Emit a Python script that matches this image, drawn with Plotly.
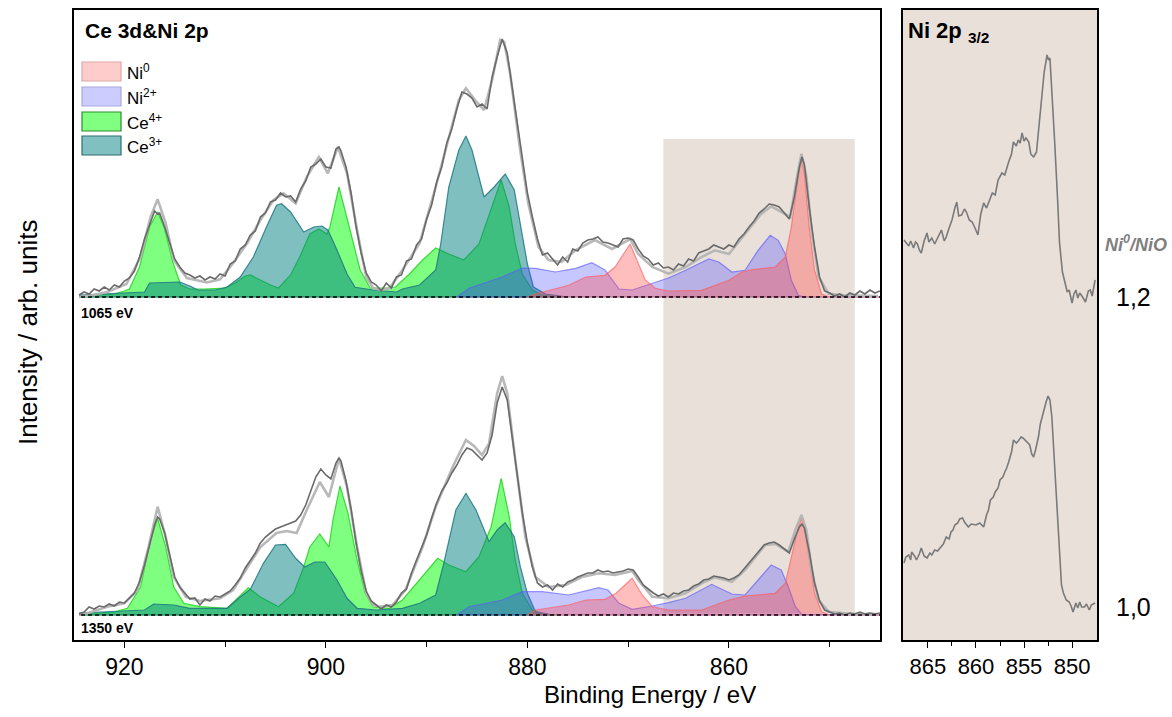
import plotly.graph_objects as go

# ---------------- data (energy in eV, intensity in arb. units) ----------------
exp_top = [(924.5,2),(924.0,5),(923.5,3),(923.0,8),(922.5,6),(922.0,10),(921.5,7),(921.0,12),(920.5,10),(920.0,16),
 (919.5,19),(919.0,26),(918.5,40),(918.0,58),(917.5,72),(917.0,86),(916.7,83),(916.5,84),(916.0,70),(915.5,54),
 (915.0,38),(914.5,30),(914.0,24),(913.5,22),(913.0,19),(912.5,21),(912.0,17),(911.5,20),(911.0,18),(910.5,23),
 (910.0,21),(909.5,33),(909.0,36),(908.5,48),(908.0,52),(907.5,62),(907.0,66),(906.5,80),(906.0,84),(905.5,95),
 (905.0,97),(904.5,104),(904.0,100),(903.5,101),(903.0,95),(902.5,108),(902.0,116),(901.5,130),(901.0,133),(900.5,138),
 (900.0,130),(899.5,129),(899.0,148),(898.7,150),(898.5,146),(898.0,130),(897.5,104),(897.0,70),(896.5,44),(896.0,24),
 (895.5,15),(895.0,12),(894.5,6),(894.0,14),(893.5,9),(893.0,20),(892.5,22),(892.0,36),(891.5,38),(891.0,52),
 (890.5,58),(890.0,78),(889.5,92),(889.0,115),(888.5,130),(888.0,154),(887.5,168),(887.0,188),(886.5,205),(886.0,203),
 (885.5,199),(885.0,190),(884.5,193),(884.0,188),(883.5,220),(883.0,240),(882.5,258),(882.0,244),(881.5,210),(881.0,172),
 (880.5,138),(880.0,104),(879.5,80),(879.0,58),(878.5,42),(878.0,44),(877.5,38),(877.0,32),(876.5,40),(876.0,35),
 (875.5,48),(875.0,46),(874.5,54),(874.0,57),(873.5,58),(873.0,60),(872.5,55),(872.0,54),(871.5,52),(871.0,50),
 (870.5,58),(870.0,59),(869.5,57),(869.0,48),(868.5,41),(868.0,38),(867.5,32),(867.0,34),(866.5,29),(866.0,30),
 (865.5,27),(865.0,33),(864.5,31),(864.0,38),(863.5,36),(863.0,44),(862.5,46),(862.0,48),(861.5,52),(861.0,50),
 (860.5,48),(860.0,52),(859.5,50),(859.0,58),(858.5,63),(858.0,70),(857.5,76),(857.0,84),(856.5,88),(856.0,93),
 (855.5,92),(855.0,90),(854.5,84),(854.0,78),(853.5,100),(853.0,130),(852.75,140),(852.5,132),(852.0,88),(851.5,50),
 (851.0,20),(850.5,6),(850.0,4),(849.5,1),(849.0,3),(848.5,0),(848.0,4),(847.5,2),(847.0,6),(846.5,3),
 (846.0,7),(845.5,4),(845.0,6)]

exp_bottom = [(924.5,1),(924.0,3),(923.5,8),(923.0,6),(922.5,9),(922.0,8),(921.5,11),(921.0,9),(920.5,13),(920.0,12),
 (919.5,17),(919.0,22),(918.5,33),(918.0,50),(917.5,70),(917.0,90),(916.7,98),(916.5,96),(916.0,82),(915.5,60),
 (915.0,38),(914.5,28),(914.0,22),(913.5,16),(913.0,17),(912.5,10),(912.0,16),(911.5,14),(911.0,19),(910.5,18),
 (910.0,21),(909.5,24),(909.0,30),(908.5,37),(908.0,47),(907.5,55),(907.0,62),(906.5,72),(906.0,78),(905.5,82),
 (905.0,86),(904.5,88),(904.0,90),(903.5,92),(903.0,94),(902.5,100),(902.0,110),(901.5,124),(901.0,138),(900.5,146),
 (900.0,140),(899.5,136),(899.0,152),(898.7,157),(898.5,154),(898.0,134),(897.5,106),(897.0,72),(896.5,44),(896.0,24),
 (895.5,14),(895.0,10),(894.5,6),(894.0,10),(893.5,8),(893.0,13),(892.5,22),(892.0,26),(891.5,42),(891.0,55),
 (890.5,68),(890.0,80),(889.5,97),(889.0,112),(888.5,124),(888.0,132),(887.5,142),(887.0,150),(886.5,160),(886.0,167),
 (885.5,165),(885.0,160),(884.5,155),(884.0,162),(883.5,180),(883.0,212),(882.5,228),(882.0,215),(881.5,178),(881.0,138),
 (880.5,102),(880.0,72),(879.5,48),(879.0,32),(878.5,28),(878.0,30),(877.5,25),(877.0,31),(876.5,28),(876.0,33),
 (875.5,35),(875.0,38),(874.5,40),(874.0,42),(873.5,42),(873.0,45),(872.5,43),(872.0,44),(871.5,42),(871.0,43),
 (870.5,44),(870.0,46),(869.5,45),(869.0,38),(868.5,30),(868.0,26),(867.5,22),(867.0,19),(866.5,21),(866.0,18),
 (865.5,22),(865.0,21),(864.5,24),(864.0,25),(863.5,29),(863.0,31),(862.5,35),(862.0,36),(861.5,39),(861.0,38),
 (860.5,37),(860.0,35),(859.5,37),(859.0,40),(858.5,46),(858.0,53),(857.5,58),(857.0,64),(856.5,70),(856.0,72),
 (855.5,73),(855.0,70),(854.5,66),(854.0,62),(853.5,76),(853.0,88),(852.75,91),(852.5,87),(852.0,62),(851.5,32),
 (851.0,14),(850.5,5),(850.0,3),(849.5,1),(849.0,2),(848.5,0),(848.0,2),(847.5,1),(847.0,3),(846.5,1),
 (846.0,2),(845.5,1),(845.0,2)]

envelope_top = [(924.5,0),(923,2),(921.7,5),(919.8,13),(918.4,40),(917.4,80),(916.7,97.7),(915.9,74),(915.1,37),
 (913.8,19),(911.8,14.5),(910.5,17.7),(909.2,34),(907.8,54),(906.5,77),(905.2,97),(904.2,103.7),(903.0,93.7),
 (901.9,120),(900.7,140),(899.8,123.7),(898.8,150),(897.9,123.7),(896.9,66.7),(896.0,20),(895.3,8.7),(894.5,7),
 (893.7,8.7),(892.4,27),(890.7,53.7),(889.1,110),(887.8,160),(886.8,197),(886.1,208.7),(885.1,195.7),(884.3,187),
 (883.5,217),(882.7,257),(882.3,255),(881.7,223),(880.8,153),(879.9,93),(878.9,50),(877.9,37),(876.6,35),
 (875.2,47),(873.3,57),(871.6,48),(870.9,52),(869.8,58),(869.0,43),(867.6,30),(866.0,23.3),(864.3,30),
 (862.7,40),(861.4,46.7),(860.0,43),(858.4,63),(856.8,83),(855.8,90.7),(854.8,85),(853.9,80),(853.3,116.7),
 (852.8,143.3),(852.3,120),(851.8,66.7),(851.1,20),(850.1,3.3),(848.5,1.7),(845.2,1)]

envelope_bottom = [(924.5,0),(923.7,1.7),(921.7,8.3),(920.0,11.7),(918.7,25),(917.6,68),(916.7,108.3),(915.9,78),
 (915.1,38),(913.9,18),(912.5,14),(910.5,16.7),(909.2,25),(907.8,48),(906.5,68),(904.9,82),(903.9,84),(902.9,82),
 (901.9,105),(900.6,133),(899.7,118),(898.7,156.7),(897.9,128),(896.9,68),(896.0,21.7),(895.3,10),(894.7,8.3),
 (893.4,10),(892.1,25),(890.4,68.3),(889.1,108.3),(887.4,148.3),(886.1,175),(885.3,169),(884.5,160),(883.8,171.7),
 (883.0,221.7),(882.5,239),(882.0,221.7),(881.2,155),(880.2,78),(879.2,38),(877.9,28),(876.2,30),(874.6,38),
 (872.9,41.7),(871.3,40),(869.6,44),(869.0,35),(867.6,18.3),(866.0,16.7),(864.3,21.7),(862.7,31.7),(861.4,37.7),
 (859.7,33.3),(858.4,45),(856.4,70),(855.4,71),(854.1,63.3),(853.4,85),(852.8,100),(852.3,85),(851.8,45),
 (851.1,15),(850.1,3.3),(847.8,1),(845.2,1)]

ce4_top = [(924.5,1),(921,3),(920,6),(919.5,8),(918.5,30),(917.5,70),(916.7,85),(916,68),(915.2,35),(914.4,12),
 (913.5,8),(912,8),(910,9),(909,14),(908,21),(907.5,22),(906.5,17),(905.5,12),(904.7,9),(903.5,22),(902.6,40),
 (901.6,63),(900.7,68),(899.9,63),(899.6,70),(898.7,110),(897.6,67),(896.6,27),(895.6,9),(894.0,9),(893.1,10),
 (891.7,23),(890.4,37),(889.1,49),(887.8,43),(886.3,37),(884.8,53),(883.5,90),(882.6,117),(881.8,90),(881.2,53),
 (880.5,23),(879.5,7),(878.6,2),(877,0)]

ce3_top = [(924.5,2),(921,4),(918,5),(917.5,14),(914.5,15),(913.5,11),(912.7,7),(911,7),(909.8,10),(908.5,20),
 (907.2,40),(905.9,70),(904.9,91.7),(904.4,93.3),(903.5,85),(902.2,65),(901.2,70),(900.4,71),(899.8,67),(898.9,47),
 (897.9,23),(897.1,9.7),(895.3,7),(893,5),(892.4,8),(890.7,12),(889.1,27),(888.6,53),(887.8,110),(886.8,147),
 (886.1,161),(885.5,147),(884.3,100),(883.3,110),(882.2,123),(881.3,107),(880.7,73),(880.0,33),(879.4,10),
 (878.2,3),(876,0)]

ni2_top = [(887,0),(885.8,8.7),(882.5,20),(880.5,29),(879.2,28.7),(877.2,25),(875.2,28.7),(873.6,34.3),(872.3,27),
 (871.3,13.7),(870.9,8),(869.6,7),(867.6,14),(866.0,19),(864.3,26.7),(862.0,38),(861.0,35),(859.7,25),(858.4,26.7),
 (857.1,46.7),(855.9,61.7),(855.1,56.7),(854.4,43),(853.8,16.7),(853.1,1.7),(852.5,0),(845,0)]

ni0_top = [(880,0),(879.2,3),(875.9,11.7),(874.2,20),(872.3,21.7),(871.3,30),(869.8,53),(869.0,33.7),(868.3,17),
 (867.3,8.7),(866.0,6),(862.7,6.7),(860.0,16.7),(858.7,25),(857.7,27.3),(855.4,30),(854.4,40),(853.8,70),
 (853.1,123),(852.8,137),(852.5,123),(852.0,67),(851.5,27),(850.8,3),(850.0,0),(845,0)]

ce4_bottom = [(924.5,1),(921,3),(919.7,6.7),(918.4,28),(917.4,75),(916.7,96.7),(915.9,68),(915.1,28),(914.1,11.7),
 (912.5,8.3),(909.8,6.7),(908.8,16.7),(907.7,27.3),(906.5,18),(904.7,8.3),(903.2,21.7),(902.2,48),(901.6,68),
 (900.6,81),(899.7,68),(899.3,95),(898.6,129),(897.8,101.7),(896.9,55),(896.1,21.7),(895.3,8),(893.7,6.7),
 (892.4,15),(890.7,35),(888.9,56.7),(887.8,50),(886.1,43.3),(884.8,58.3),(883.6,88),(882.6,136.7),(881.8,98.3),
 (881.2,55),(880.5,21.7),(879.5,5),(878.5,1),(877,0)]

ce3_bottom = [(924.5,2),(921,4),(918,5),(917.1,11),(915.1,10),(913.5,6.7),(909.8,6.7),(908.5,18),(907.5,25.7),
 (906.2,51.7),(905.0,70),(904.0,70.7),(903.0,56.7),(902.1,48),(901.1,53),(900.1,53),(898.9,35),(897.9,16.7),
 (896.9,6.7),(895,5),(892.4,6.7),(890.7,11.7),(889.1,20),(888.3,51.7),(887.1,105),(886.1,121.7),(885.1,105),
 (883.8,73.3),(883.0,85),(882.2,92.3),(881.3,78.3),(880.7,48.3),(880.0,21.7),(879.2,3.3),(877.5,0)]

ni2_bottom = [(887,0),(885.8,8.3),(882.5,15),(880.5,23.3),(878.5,23.3),(875.9,20),(872.9,27.3),(872.0,25),
 (870.9,11.7),(869.6,5.7),(867.6,9),(866.0,12.3),(864.3,16.7),(861.7,30.7),(859.7,21),(858.4,20),(857.1,35),
 (855.8,50),(854.8,45),(854.1,28.3),(853.4,8.3),(852.8,1),(845,0)]

ni0_bottom = [(880,0),(879.2,5),(875.9,10),(874.2,15),(872.3,15.7),(871.2,21.7),(869.6,36.7),(868.6,20),(867.6,8.3),
 (866.0,5),(862.7,5),(860.0,15),(858.4,19),(855.4,21.7),(854.4,31.7),(853.8,58.3),(853.1,88.3),(852.8,96.7),
 (852.5,88.3),(852.0,55),(851.5,21.7),(850.8,3.3),(850.0,0),(845,0)]

# Ni 2p3/2 detail panel (E, stacked intensity)
ni2p_top = [(867.5,400),(867.2,396),(867.0,394),(866.8,399),(866.5,392),(866.3,398),(866.1,396),(865.9,390),
 (865.7,387),(865.4,399),(865.1,407),(864.9,398),(864.6,402),(864.3,396),(864.1,400),(863.8,406),(863.6,410),
 (863.3,399),(863.1,403),(862.8,412),(862.5,420),(862.2,432),(862.0,438),(861.8,424),(861.5,425),(861.2,431),
 (861.0,428),(860.7,420),(860.4,418),(860.1,412),(859.8,405),(859.5,426),(859.2,437),(858.9,432),(858.6,440),
 (858.3,447),(858.0,445),(857.7,460),(857.3,467),(857.0,465),(856.6,478),(856.3,486),(856.1,498),(855.8,494),
 (855.6,500),(855.4,497),(855.2,507),(855.0,499),(854.8,502),(854.5,498),(854.3,486),(854.0,483),(853.7,488),
 (853.5,510),(853.2,540),(852.9,568),(852.6,585),(852.45,580),(852.3,582),(852.1,550),(851.8,497),(851.5,440),
 (851.3,397),(851.0,368),(850.7,357),(850.5,348),(850.3,350),(850.1,340),(850.0,337),(849.8,346),(849.6,350),
 (849.4,342),(849.2,347),(848.9,343),(848.6,338),(848.3,349),(848.1,350),(847.9,344),(847.6,360)]
ni2p_bottom = [(867.5,77),(867.3,83),(867.0,85),(866.8,80),(866.7,88),(866.4,84),(866.2,80),(865.9,86),(865.7,92),
 (865.4,84),(865.1,82),(864.8,87),(864.6,85),(864.3,90),(864.0,89),(863.7,92),(863.4,96),(863.1,103),(862.8,101),
 (862.6,108),(862.4,110),(862.2,115),(861.9,117),(861.7,121),(861.4,122),(861.2,118),(860.8,113),(860.5,116),
 (860.0,115),(859.6,117),(859.2,113),(858.9,125),(858.7,130),(858.5,140),(858.2,143),(858.0,148),(857.7,152),
 (857.5,160),(857.2,163),(857.0,168),(856.8,172),(856.6,178),(856.3,188),(856.1,200),(855.8,197),(855.6,199),
 (855.3,203),(855.1,202),(854.9,200),(854.7,198),(854.4,195),(854.2,186),(854.0,183),(853.8,190),(853.5,203),
 (853.3,216),(853.0,228),(852.7,238),(852.5,244),(852.3,240),(852.1,223),(851.8,170),(851.5,120),(851.3,77),
 (851.1,55),(850.9,47),(850.6,40),(850.3,38),(850.1,34),(849.9,28),(849.7,35),(849.6,37),(849.4,32),(849.2,38),
 (849.0,33),(848.7,33),(848.5,36),(848.2,30),(848.0,35),(847.6,37)]

main_ticks = [920, 900, 880, 860]
main_minor_ticks = [910, 890, 870, 850]
ni_ticks = [865, 860, 855, 850]
ni_minor_ticks = [862.5, 857.5, 852.5]
legend_labels = ["Ni<sup>0</sup>", "Ni<sup>2+</sup>", "Ce<sup>4+</sup>", "Ce<sup>3+</sup>"]
spectrum_labels = ["1065 eV", "1350 eV"]
ratio_labels = ["1,2", "1,0"]

# ---------------- layout constants ----------------
TOP_OFF = 343
BOT_OFF = 25
FONT = "Liberation Sans, Arial, sans-serif"
BEIGE = "#eae0da"
STY = {
    "ce4": ("rgba(0,255,0,0.5)", "rgba(40,215,40,0.9)"),
    "ce3": ("rgba(0,128,128,0.5)", "rgba(30,120,130,0.85)"),
    "ni2": ("rgba(70,70,255,0.3)", "rgba(90,90,255,0.65)"),
    "ni0": ("rgba(255,70,70,0.35)", "rgba(255,90,90,0.65)"),
}

fig = go.Figure()


def xs_of(p):
    return [a for a, _ in p]


def ys_of(p, off=0):
    return [b + off for _, b in p]


def add_component(pairs, off, key):
    fill, line = STY[key]
    x = xs_of(pairs)
    y = ys_of(pairs, off)
    fig.add_trace(go.Scatter(x=x + [x[-1], x[0]], y=y + [off, off], mode="lines",
                             fill="toself", fillcolor=fill,
                             line=dict(color=line, width=1.2),
                             hoverinfo="skip", showlegend=False))


for off, comps in ((TOP_OFF, (ce4_top, ce3_top, ni2_top, ni0_top)),
                   (BOT_OFF, (ce4_bottom, ce3_bottom, ni2_bottom, ni0_bottom))):
    for pairs, key in zip(comps, ("ce4", "ce3", "ni2", "ni0")):
        add_component(pairs, off, key)

for off, env, exp in ((TOP_OFF, envelope_top, exp_top), (BOT_OFF, envelope_bottom, exp_bottom)):
    fig.add_trace(go.Scatter(x=xs_of(env), y=ys_of(env, off), mode="lines",
                             line=dict(color="rgba(180,180,180,0.95)", width=2.6),
                             showlegend=False, hoverinfo="skip"))
    fig.add_trace(go.Scatter(x=xs_of(exp), y=ys_of(exp, off), mode="lines",
                             line=dict(color="#6a6a6a", width=1.6),
                             showlegend=False, hoverinfo="skip"))

for pairs in (ni2p_top, ni2p_bottom):
    fig.add_trace(go.Scatter(x=xs_of(pairs), y=ys_of(pairs), mode="lines", xaxis="x2", yaxis="y2",
                             line=dict(color="#7a7a7a", width=1.6),
                             showlegend=False, hoverinfo="skip"))

W_PLOT = 1172 - 74 - 75
H_PLOT = 630


def px(xp):
    return (xp - 74) / W_PLOT


def py(yp):
    return (640 - yp) / H_PLOT


shapes = [
    dict(type="rect", xref="x2 domain", yref="y2 domain", x0=0, x1=1, y0=0, y1=1,
         fillcolor=BEIGE, line=dict(width=0), layer="below"),
    dict(type="rect", xref="x", yref="y", x0=866.5, x1=847.5, y0=27, y1=501,
         fillcolor=BEIGE, line=dict(width=0), layer="below"),
]
for off in (TOP_OFF, BOT_OFF):
    shapes.append(dict(type="line", xref="x", yref="y", x0=924.3, x1=845, y0=off, y1=off,
                       line=dict(color="black", width=1.3, dash="4px,3px")))

swatches = [("#ffcccc", "#e0a8a8"), ("#ccccff", "#a8a8dd"), ("#80ff80", "#2e8b2e"), ("#80c0c0", "#2f6f6f")]
sw_tops = [62, 87, 112, 136]
annotations = []
for (fc, lc), top, lab in zip(swatches, sw_tops, legend_labels):
    shapes.append(dict(type="rect", xref="paper", yref="paper", x0=px(82), x1=px(121),
                       y0=py(top + 19), y1=py(top), fillcolor=fc, line=dict(color=lc, width=1.2)))
    annotations.append(dict(xref="paper", yref="paper", x=px(125), y=py(top + 10), text=lab,
                            showarrow=False, xanchor="left", yanchor="middle",
                            font=dict(size=17, color="black", family=FONT)))

annotations += [
    dict(xref="paper", yref="paper", x=px(83), y=py(30), text="<b>Ce 3d&amp;Ni 2p</b>",
         showarrow=False, xanchor="left", yanchor="middle", font=dict(size=21, family=FONT, color="black")),
    dict(xref="paper", yref="paper", x=px(906), y=py(32), text="<b>Ni 2p <sub>3/2</sub></b>",
         showarrow=False, xanchor="left", yanchor="middle", font=dict(size=22, family=FONT, color="black")),
    dict(xref="paper", yref="paper", x=px(79), y=py(313), text="<b>" + spectrum_labels[0] + "</b>",
         showarrow=False, xanchor="left", yanchor="middle", font=dict(size=14, family=FONT, color="black")),
    dict(xref="paper", yref="paper", x=px(79), y=py(628), text="<b>" + spectrum_labels[1] + "</b>",
         showarrow=False, xanchor="left", yanchor="middle", font=dict(size=14, family=FONT, color="black")),
    dict(xref="paper", yref="paper", x=px(1136), y=py(243), text="<b><i>Ni<sup>0</sup>/NiO</i></b>",
         showarrow=False, xanchor="center", yanchor="middle", font=dict(size=18, family=FONT, color="#7f7f7f")),
    dict(xref="paper", yref="paper", x=px(1133), y=py(297), text=ratio_labels[0],
         showarrow=False, xanchor="center", yanchor="middle", font=dict(size=25, family=FONT, color="black")),
    dict(xref="paper", yref="paper", x=px(1133), y=py(607), text=ratio_labels[1],
         showarrow=False, xanchor="center", yanchor="middle", font=dict(size=25, family=FONT, color="black")),
    dict(xref="paper", yref="paper", x=px(650), y=py(694), text="Binding Energy / eV",
         showarrow=False, xanchor="center", yanchor="middle", font=dict(size=24, family=FONT, color="black")),
    dict(xref="paper", yref="paper", x=px(28), y=py(333), text="Intensity / arb. units", textangle=-90,
         showarrow=False, xanchor="center", yanchor="middle", font=dict(size=26, family=FONT, color="black")),
]

axis_common = dict(showgrid=False, zeroline=False, showline=True, mirror=True,
                   linecolor="black", linewidth=1.5)

fig.update_layout(
    width=1172, height=717,
    margin=dict(l=74, r=75, t=10, b=77, autoexpand=False),
    plot_bgcolor="white", paper_bgcolor="white",
    showlegend=False,
    font=dict(family=FONT, color="black"),
    xaxis=dict(domain=[0, px(880)], range=[925, 845], tickvals=main_ticks,
               ticks="outside", ticklen=6, tickwidth=1.3, tickcolor="black",
               tickfont=dict(size=23, family=FONT, color="black"),
               minor=dict(tickvals=main_minor_ticks, ticks="outside", ticklen=5,
                          tickwidth=1.2, tickcolor="black", showgrid=False),
               anchor="y", automargin=False, **axis_common),
    yaxis=dict(domain=[0, 1], range=[0, 630], showticklabels=False, ticks="",
               anchor="x", automargin=False, **axis_common),
    xaxis2=dict(domain=[px(903), 1], range=[867.6, 847.4], tickvals=ni_ticks,
                ticks="outside", ticklen=6, tickwidth=1.3, tickcolor="black",
                tickfont=dict(size=22, family=FONT, color="black"),
                minor=dict(tickvals=ni_minor_ticks, ticks="outside", ticklen=4,
                           tickwidth=1.2, tickcolor="black", showgrid=False),
                anchor="y2", automargin=False, **axis_common),
    yaxis2=dict(domain=[0, 1], range=[0, 630], showticklabels=False, ticks="",
                anchor="x2", automargin=False, **axis_common),
    shapes=shapes,
    annotations=annotations,
)

fig.write_html("out.html", config={"displayModeBar": False},
               post_script="document.body.style.margin='0px';document.body.style.overflow='hidden';")
